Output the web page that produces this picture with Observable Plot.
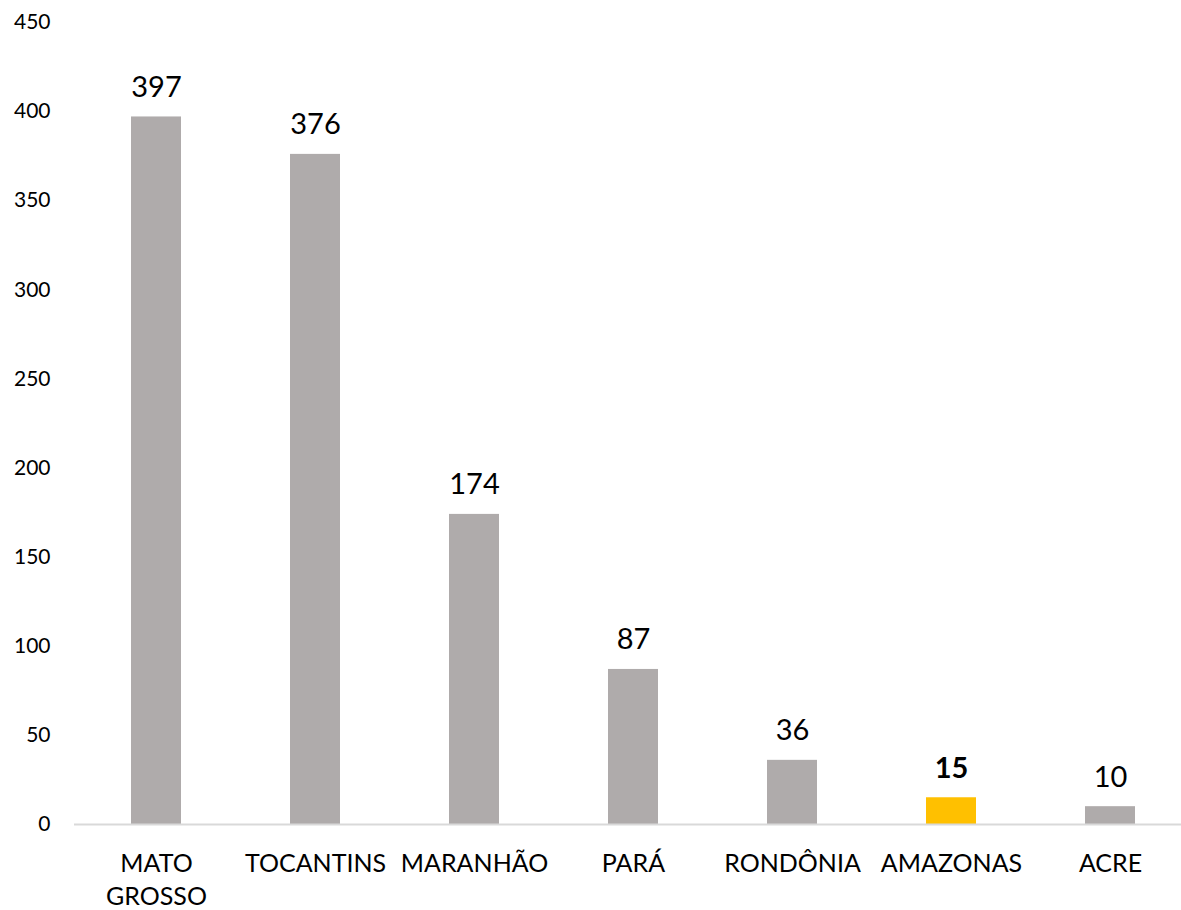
<!DOCTYPE html>
<html>
<head>
<meta charset="utf-8">
<script src="https://cdn.jsdelivr.net/npm/d3@7"></script>
<script src="https://cdn.jsdelivr.net/npm/@observablehq/plot@0.6"></script>
<style>
  html, body { margin: 0; padding: 0; background: #fff; overflow: hidden; }
  #chart svg { display: block; }
</style>
</head>
<body>
<div id="chart"></div>
<script>
const states = ["MATO GROSSO", "TOCANTINS", "MARANHÃO", "PARÁ", "RONDÔNIA", "AMAZONAS", "ACRE"];
const values = [397, 376, 174, 87, 36, 15, 10];
const highlight = ["AMAZONAS"];
const yTicks = [0, 50, 100, 150, 200, 250, 300, 350, 400, 450];
const tickLabels = {"MATO GROSSO": "MATO\nGROSSO"};

const data = states.map((s, i) => ({state: s, value: values[i], hl: highlight.includes(s)}));
const normal = data.filter(d => !d.hl);
const bold = data.filter(d => d.hl);

const chart = Plot.plot({
  width: 1181,
  height: 910,
  marginTop: 22,
  marginBottom: 86,
  marginLeft: 74,
  marginRight: 0,
  style: {fontFamily: "Lato, sans-serif", color: "#000", background: "#fff"},
  x: {domain: states, range: [74, 1191], paddingInner: 0.686, paddingOuter: 0.345, label: null},
  y: {domain: [0, 450], label: null},
  marks: [
    Plot.barY(data, {x: "state", y: "value", fill: d => d.hl ? "#FFC000" : "#AFABAB"}),
    Plot.ruleY([0], {stroke: "#D9D9D9", strokeWidth: 2}),
    Plot.text(normal, {x: "state", y: "value", text: d => String(d.value), dy: -20,
      lineAnchor: "bottom", fontSize: 29, fill: "#000"}),
    Plot.text(bold, {x: "state", y: "value", text: d => String(d.value), dy: -20,
      lineAnchor: "bottom", fontSize: 29, fontWeight: "bold", fill: "#000"}),
    Plot.axisY({ticks: yTicks, tickSize: 0, tickPadding: 24, fontSize: 21, label: null}),
    Plot.axisX({tickSize: 0, tickPadding: 24, fontSize: 25, lineAnchor: "top", lineHeight: 1.32,
      tickFormat: d => tickLabels[d] || d, label: null})
  ]
});
document.getElementById("chart").appendChild(chart);
</script>
</body>
</html>
